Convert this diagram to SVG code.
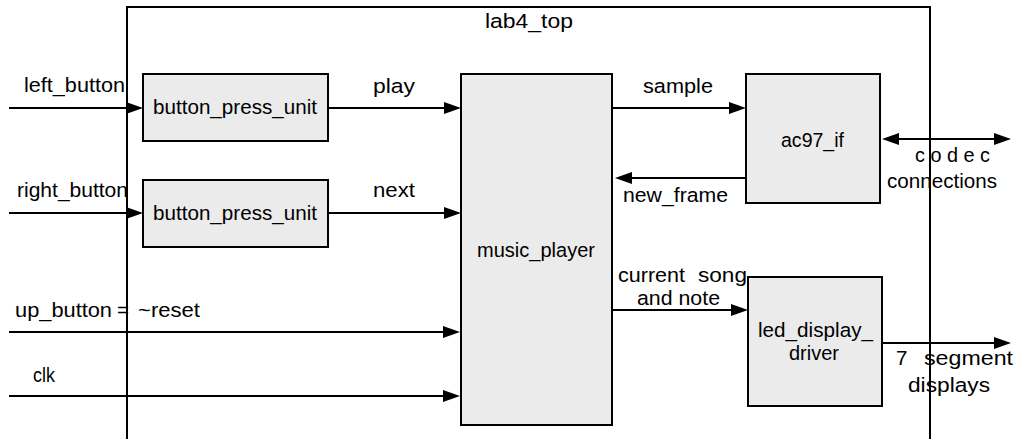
<svg xmlns="http://www.w3.org/2000/svg" width="1019" height="439" viewBox="0 0 1019 439">
  <style>
    text { font-family: "Liberation Sans", Arial, sans-serif; font-size: 20.5px; fill: #000; }
    .c { text-anchor: middle; }
    .box { fill: #ebebeb; stroke: #000; stroke-width: 2; }
    .wire { fill: none; stroke: #000; stroke-width: 2; marker-end: url(#head); }
    .frame { fill: none; stroke: #000; stroke-width: 2; }
  </style>
  <defs>
    <marker id="head" markerUnits="userSpaceOnUse" markerWidth="18" markerHeight="14" refX="13" refY="6" orient="auto-start-reverse">
      <path d="M0,0 L17,6 L0,12 Z" fill="#000"/>
    </marker>
  </defs>

  <rect width="1019" height="439" fill="#fff"/>

  <!-- top-level module boundary (continues below the page) -->
  <g id="lab4_top">
    <path class="frame" d="M127,439 V7 H930 V439"/>
    <text class="c" x="529" y="28" textLength="88" lengthAdjust="spacingAndGlyphs">lab4_top</text>
  </g>

  <g id="button_press_unit_left">
    <rect class="box" x="143" y="74" width="185" height="67"/>
    <text class="c" x="235" y="114" textLength="164" lengthAdjust="spacingAndGlyphs">button_press_unit</text>
  </g>

  <g id="button_press_unit_right">
    <rect class="box" x="143" y="180" width="185" height="67"/>
    <text class="c" x="235" y="220" textLength="164" lengthAdjust="spacingAndGlyphs">button_press_unit</text>
  </g>

  <g id="music_player">
    <rect class="box" x="461" y="74" width="151" height="351"/>
    <text class="c" x="536" y="257" textLength="118" lengthAdjust="spacingAndGlyphs">music_player</text>
  </g>

  <g id="ac97_if">
    <rect class="box" x="746" y="74" width="134" height="129"/>
    <text class="c" x="812.5" y="147" textLength="63" lengthAdjust="spacingAndGlyphs">ac97_if</text>
  </g>

  <g id="led_display_driver">
    <rect class="box" x="748" y="277" width="134" height="129"/>
    <text class="c" x="815.5" y="337" textLength="115" lengthAdjust="spacingAndGlyphs">led_display_</text>
    <text class="c" x="814" y="360" textLength="50" lengthAdjust="spacingAndGlyphs">driver</text>
  </g>

  <g id="connectors">
    <path class="wire" d="M9,108 H139"/>
    <text x="24" y="92" textLength="101" lengthAdjust="spacingAndGlyphs">left_button</text>

    <path class="wire" d="M9,213 H139"/>
    <text x="17" y="197" textLength="111" lengthAdjust="spacingAndGlyphs">right_button</text>

    <path class="wire" d="M328,108 H457"/>
    <text class="c" x="394" y="93" textLength="42" lengthAdjust="spacingAndGlyphs">play</text>

    <path class="wire" d="M328,213 H457"/>
    <text class="c" x="394" y="197" textLength="42" lengthAdjust="spacingAndGlyphs">next</text>

    <path class="wire" d="M612,108 H742"/>
    <text class="c" x="678" y="93" textLength="70" lengthAdjust="spacingAndGlyphs">sample</text>

    <path class="wire" d="M746,178 H619"/>
    <text x="623" y="202" textLength="105" lengthAdjust="spacingAndGlyphs">new_frame</text>

    <path class="wire" d="M886,139 H1007" style="marker-start:url(#head)"/>
    <text x="915" y="162" textLength="75" lengthAdjust="spacingAndGlyphs">c o d e c</text>
    <text x="887" y="188" textLength="110" lengthAdjust="spacingAndGlyphs">connections</text>

    <path class="wire" d="M9,332 H456"/>
    <text y="317"><tspan x="15" textLength="97" lengthAdjust="spacingAndGlyphs">up_button</tspan><tspan x="117">=</tspan><tspan x="138" textLength="62" lengthAdjust="spacingAndGlyphs">~reset</tspan></text>

    <path class="wire" d="M9,396 H456"/>
    <text x="33" y="382" textLength="22" lengthAdjust="spacingAndGlyphs">clk</text>

    <path class="wire" d="M612,310 H744"/>
    <text y="282"><tspan x="618" textLength="67" lengthAdjust="spacingAndGlyphs">current</tspan><tspan x="698" textLength="49" lengthAdjust="spacingAndGlyphs">song</tspan></text>
    <text x="637" y="305" textLength="83" lengthAdjust="spacingAndGlyphs">and note</text>

    <path class="wire" d="M882,343 H1007"/>
    <text y="365"><tspan x="896">7</tspan><tspan x="924" textLength="89" lengthAdjust="spacingAndGlyphs">segment</tspan></text>
    <text x="908" y="392" textLength="82" lengthAdjust="spacingAndGlyphs">displays</text>
  </g>
</svg>
